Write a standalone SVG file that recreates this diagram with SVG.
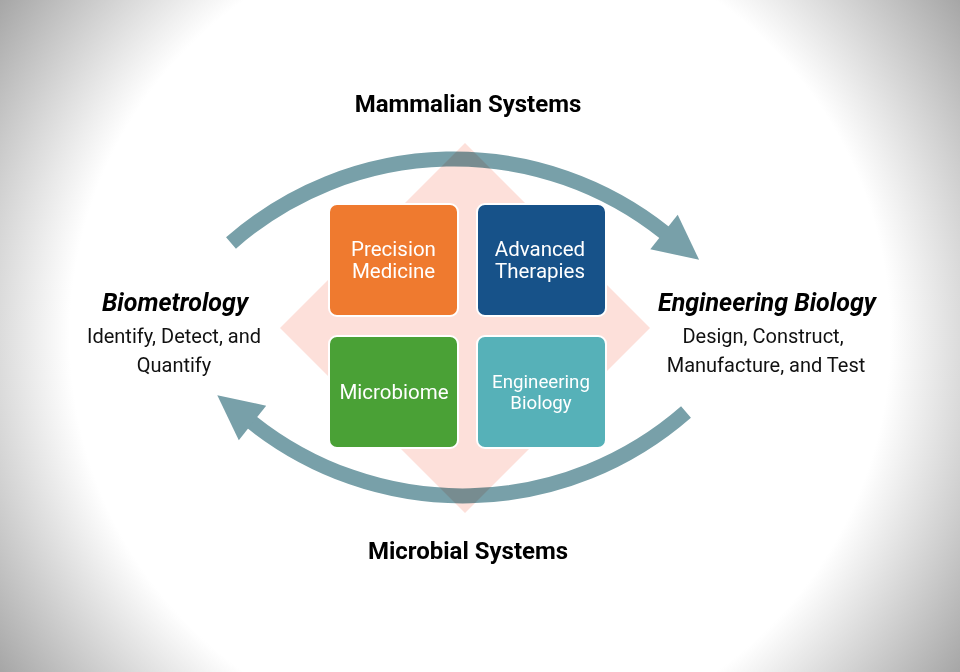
<svg xmlns="http://www.w3.org/2000/svg" width="960" height="672" viewBox="0 0 960 672">
<defs>
<radialGradient id="bg" gradientUnits="userSpaceOnUse" cx="480" cy="336" r="586">
<stop offset="0" stop-color="#ffffff"/>
<stop offset="0.7" stop-color="#ffffff"/>
<stop offset="1" stop-color="#a6a6a6"/>
</radialGradient>
<style>
.arc{fill:none;stroke:#78a0a9;stroke-width:15}
.head{fill:#78a0a9}
.box{stroke:#ffffff;stroke-width:2}
.bt{font-family:Roboto,"Liberation Sans",sans-serif;fill:#ffffff;text-anchor:middle}
.title{font-family:Roboto,"Liberation Sans",sans-serif;font-weight:bold;font-size:24px;fill:#000;text-anchor:middle}
.side{font-family:Roboto,"Liberation Sans",sans-serif;font-size:20px;fill:#111;text-anchor:middle}
.sideh{font-family:Roboto,"Liberation Sans",sans-serif;font-weight:bold;font-style:italic;font-size:25px;fill:#000;text-anchor:middle}
</style>
</defs>
<rect width="960" height="672" fill="url(#bg)"/>
<g id="connectors">
<path class="arc" d="M231,243 A338,338 0 0 1 665,233"/>
<polygon class="head" points="677.7,214.7 699.1,259.8 650.3,249.2"/>
<path class="arc" d="M686,412 A339,339 0 0 1 251.5,422"/>
<polygon class="head" points="266.2,405.7 217.3,395.2 238.8,440.3"/>
</g>
<polygon id="diamond" points="465,143 650,328 465,513 280,328" fill="#fde0da" style="mix-blend-mode:multiply"/>
<g id="precision">
<rect class="box" x="329" y="204" width="129" height="112" rx="8" fill="#ef7a2f"/>
<text class="bt" font-size="20.5" x="393.5" y="255.5">Precision</text>
<text class="bt" font-size="20.5" x="393.5" y="277.5">Medicine</text>
</g>
<g id="advanced">
<rect class="box" x="477" y="204" width="129" height="112" rx="8" fill="#175289"/>
<text class="bt" font-size="20.5" x="540" y="255.5">Advanced</text>
<text class="bt" font-size="20.5" x="540" y="277.5">Therapies</text>
</g>
<g id="microbiome">
<rect class="box" x="329" y="336" width="129" height="112" rx="8" fill="#4aa136"/>
<text class="bt" font-size="20.5" x="394" y="399">Microbiome</text>
</g>
<g id="engbio">
<rect class="box" x="477" y="336" width="129" height="112" rx="8" fill="#56b1b8"/>
<text class="bt" font-size="18.7" x="541" y="388">Engineering</text>
<text class="bt" font-size="18.7" x="541" y="409">Biology</text>
</g>
<g id="mammalian">
<text class="title" x="468" y="111.5">Mammalian Systems</text>
</g>
<g id="microbial">
<text class="title" x="468" y="559">Microbial Systems</text>
</g>
<g id="biometrology">
<text class="sideh" x="175" y="311">Biometrology</text>
<text class="side" x="174" y="343">Identify, Detect, and</text>
<text class="side" x="174" y="372">Quantify</text>
</g>
<g id="engineering">
<text class="sideh" x="767" y="311">Engineering Biology</text>
<text class="side" x="763" y="343">Design, Construct,</text>
<text class="side" x="766" y="372">Manufacture, and Test</text>
</g>
</svg>
